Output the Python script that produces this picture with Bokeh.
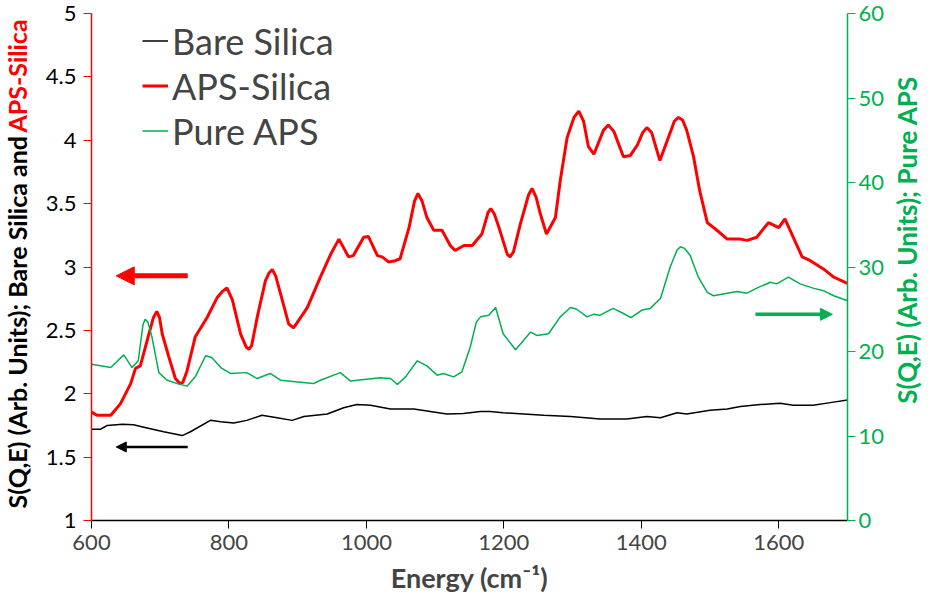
import math
from bokeh.plotting import figure
from bokeh.layouts import row
from bokeh.models import (Range1d, LinearAxis, FixedTicker, CustomJSTickFormatter,
                          Legend, LegendItem, Label, Arrow, NormalHead)
from bokeh.embed import file_html
from bokeh.resources import INLINE

# ---------------- data ----------------
E_bare = [600, 613, 623, 645, 661, 681, 705, 732, 744, 773, 788, 807, 826, 848, 870, 892,
          909, 943, 967, 986, 1006, 1035, 1069, 1093, 1117, 1141, 1166, 1180, 1199, 1258,
          1297, 1340, 1379, 1408, 1428, 1452, 1466, 1500, 1525, 1544, 1573, 1602, 1621,
          1650, 1675, 1700]
S_bare = [1.72, 1.72, 1.75, 1.76, 1.755, 1.73, 1.70, 1.67, 1.70, 1.79, 1.78, 1.77, 1.79,
          1.83, 1.81, 1.79, 1.82, 1.84, 1.89, 1.915, 1.91, 1.88, 1.88, 1.86, 1.84, 1.845,
          1.86, 1.86, 1.85, 1.83, 1.82, 1.80, 1.80, 1.82, 1.81, 1.85, 1.84, 1.87, 1.88,
          1.90, 1.915, 1.925, 1.91, 1.91, 1.93, 1.95]

E_aps_silica = [600, 608, 628, 642, 657, 664, 671, 681, 690, 695, 699, 703, 712, 722, 729,
                733, 739, 751, 768, 783, 791, 797, 805, 817, 825, 829, 833, 841, 853, 858,
                863, 868, 875, 887, 894, 914, 933, 948, 960, 974, 981, 996, 1003, 1016,
                1023, 1032, 1042, 1049, 1062, 1070, 1075, 1081, 1088, 1098, 1110, 1122,
                1129, 1142, 1154, 1168, 1177, 1181, 1186, 1193, 1205, 1209, 1214, 1224,
                1236, 1241, 1247, 1253, 1262, 1275, 1282, 1292, 1302, 1309, 1316, 1323,
                1331, 1345, 1352, 1360, 1374, 1384, 1394, 1402, 1408, 1415, 1427, 1442,
                1448, 1454, 1460, 1466, 1476, 1485, 1496, 1510, 1525, 1544, 1554, 1568,
                1585, 1600, 1609, 1619, 1634, 1646, 1665, 1680, 1700]
S_aps_silica = [1.855, 1.83, 1.83, 1.92, 2.08, 2.20, 2.22, 2.42, 2.60, 2.65, 2.60, 2.47,
                2.30, 2.12, 2.08, 2.09, 2.18, 2.45, 2.60, 2.76, 2.81, 2.835, 2.74, 2.47,
                2.37, 2.35, 2.38, 2.60, 2.89, 2.95, 2.98, 2.93, 2.79, 2.55, 2.52, 2.68,
                2.92, 3.10, 3.22, 3.08, 3.09, 3.235, 3.24, 3.09, 3.08, 3.04, 3.05, 3.065,
                3.31, 3.52, 3.58, 3.52, 3.39, 3.29, 3.29, 3.17, 3.13, 3.17, 3.17, 3.26,
                3.43, 3.46, 3.42, 3.31, 3.10, 3.08, 3.12, 3.34, 3.57, 3.62, 3.55, 3.42,
                3.26, 3.39, 3.68, 4.02, 4.18, 4.23, 4.15, 3.95, 3.89, 4.08, 4.12, 4.07,
                3.87, 3.88, 3.96, 4.06, 4.10, 4.06, 3.84, 4.06, 4.15, 4.18, 4.16, 4.08,
                3.87, 3.60, 3.35, 3.29, 3.22, 3.22, 3.21, 3.235, 3.35, 3.31, 3.38, 3.26,
                3.08, 3.05, 2.985, 2.92, 2.87]

E_pure_aps = [600, 628, 647, 659, 668, 675, 678, 682, 688, 698, 710, 725, 739, 751, 766,
              775, 788, 802, 826, 841, 860, 875, 923, 933, 962, 977, 1020, 1035, 1045,
              1057, 1074, 1088, 1103, 1112, 1127, 1139, 1151, 1160, 1166, 1178, 1188,
              1199, 1217, 1239, 1248, 1265, 1282, 1297, 1306, 1321, 1330, 1340, 1359,
              1374, 1385, 1401, 1413, 1428, 1442, 1452, 1457, 1463, 1471, 1483, 1496,
              1505, 1525, 1539, 1554, 1568, 1588, 1597, 1614, 1631, 1650, 1665, 1680, 1700]
S_pure_aps = [18.5, 18.1, 19.6, 18.1, 18.9, 23.2, 23.8, 23.5, 21.7, 17.5, 16.6, 16.2, 15.9,
              17.0, 19.5, 19.3, 18.1, 17.4, 17.5, 16.8, 17.4, 16.6, 16.2, 16.6, 17.5, 16.5,
              16.9, 16.8, 16.1, 17.0, 18.9, 18.3, 17.2, 17.4, 17.0, 17.6, 20.5, 23.5, 24.1,
              24.3, 25.2, 22.1, 20.2, 22.3, 21.9, 22.1, 24.1, 25.2, 25.0, 24.1, 24.4, 24.3,
              25.1, 24.5, 24.0, 24.9, 25.1, 26.3, 30.0, 32.0, 32.4, 32.2, 31.4, 28.8, 27.0,
              26.6, 26.9, 27.1, 26.9, 27.5, 28.2, 28.0, 28.8, 28.0, 27.5, 27.2, 26.6, 26.0]

x_ticks = [600, 800, 1000, 1200, 1400, 1600]
left_ticks = [1, 1.5, 2, 2.5, 3, 3.5, 4, 4.5, 5]
right_ticks = [0, 10, 20, 30, 40, 50, 60]

series_names = ["Bare Silica", "APS-Silica", "Pure APS"]
left_label_black = "S(Q,E) (Arb. Units); Bare Silica and"
left_label_red = "APS-Silica"
right_label = "S(Q,E) (Arb. Units); Pure APS"
x_label = "Energy (cm\u207b\u00b9)"

# arrow annotations (data units): x_start, x_end, y
red_arrow = [740, 636, 2.93]
black_arrow = [740, 636, 1.58]
green_arrow = [1566, 1678, 24.4]

RED = "#FF0000"
GREEN = "#00B050"
FONT = "Lato"
H = 596

# ---------- left label strip ----------
LW = 32
pl = figure(width=LW, height=H, x_range=Range1d(0, LW), y_range=Range1d(0, H),
            output_backend="svg", toolbar_location=None, x_axis_type=None, y_axis_type=None,
            min_border=0)
pl.outline_line_color = None
anchor = H - 142
common = dict(x=16, angle=math.pi / 2, text_baseline="middle", text_font=FONT,
              text_font_style="bold", text_font_size="25px")
pl.add_layout(Label(y=anchor - 2, text=left_label_black, text_align="right",
                    text_color="black", **common))
pl.add_layout(Label(y=anchor + 2, text=left_label_red, text_align="left",
                    text_color=RED, **common))

# ---------- main plot ----------
RW = 36
MW = 924 - LW - RW
p = figure(width=MW, height=H, x_range=Range1d(600, 1700), y_range=Range1d(1, 5),
           output_backend="svg", toolbar_location=None,
           min_border_left=91 - LW, min_border_right=MW - (91 - LW) - 756,
           min_border_top=13, min_border_bottom=76)
p.extra_y_ranges = {"right": Range1d(0, 60)}
p.xgrid.visible = False
p.ygrid.visible = False
p.outline_line_color = None
p.background_fill_color = "white"

fmt = CustomJSTickFormatter(code="return String(Math.round(tick*10)/10)")

xa = p.xaxis[0]
xa.ticker = FixedTicker(ticks=x_ticks)
xa.axis_line_color = "black"
xa.axis_line_width = 1.5
xa.major_tick_line_color = "black"
xa.major_tick_out = 8
xa.major_tick_in = 0
xa.minor_tick_line_color = None
xa.major_label_text_font = FONT
xa.major_label_text_font_size = "22px"
xa.major_label_standoff = 6
xa.axis_label = x_label
xa.axis_label_text_font = FONT
xa.axis_label_text_font_style = "bold"
xa.axis_label_text_font_size = "27px"
xa.axis_label_standoff = 8

ya = p.yaxis[0]
ya.ticker = FixedTicker(ticks=left_ticks)
ya.formatter = fmt
ya.axis_line_color = RED
ya.axis_line_width = 1.5
ya.major_tick_line_color = RED
ya.major_tick_out = 8
ya.major_tick_in = 0
ya.minor_tick_line_color = None
ya.major_label_text_font = FONT
ya.major_label_text_font_size = "22px"
ya.major_label_text_color = "black"
ya.major_label_standoff = 7

ra = LinearAxis(y_range_name="right", ticker=FixedTicker(ticks=right_ticks), formatter=fmt)
ra.axis_line_color = GREEN
ra.axis_line_width = 1.5
ra.major_tick_line_color = GREEN
ra.major_tick_out = 8
ra.major_tick_in = 0
ra.minor_tick_line_color = None
ra.major_label_text_font = FONT
ra.major_label_text_font_size = "22px"
ra.major_label_text_color = GREEN
ra.major_label_standoff = 3
p.add_layout(ra, "right")

r_bare = p.line(E_bare, S_bare, line_color="black", line_width=1.5)
r_aps = p.line(E_aps_silica, S_aps_silica, line_color=RED, line_width=3)
r_pure = p.line(E_pure_aps, S_pure_aps, line_color=GREEN, line_width=1.5, y_range_name="right")

p.add_layout(Arrow(x_start=red_arrow[0], x_end=red_arrow[1], y_start=red_arrow[2], y_end=red_arrow[2],
                   line_color=RED, line_width=5,
                   end=NormalHead(size=18, fill_color=RED, line_color=RED)))
p.add_layout(Arrow(x_start=black_arrow[0], x_end=black_arrow[1], y_start=black_arrow[2], y_end=black_arrow[2],
                   line_color="black", line_width=2.5,
                   end=NormalHead(size=10, fill_color="black", line_color="black")))
p.add_layout(Arrow(x_start=green_arrow[0], x_end=green_arrow[1], y_start=green_arrow[2], y_end=green_arrow[2],
                   y_range_name="right", line_color=GREEN, line_width=3.5,
                   end=NormalHead(size=12, fill_color=GREEN, line_color=GREEN)))

legend = Legend(items=[LegendItem(label=series_names[0], renderers=[r_bare]),
                       LegendItem(label=series_names[1], renderers=[r_aps]),
                       LegendItem(label=series_names[2], renderers=[r_pure])],
                location=(51, 367), border_line_color=None, background_fill_alpha=0,
                padding=0, spacing=0, glyph_width=26, glyph_height=45, label_height=45,
                label_standoff=4, label_text_font=FONT, label_text_font_size="36px")
p.add_layout(legend)

# ---------- right label strip ----------
pr = figure(width=RW, height=H, x_range=Range1d(0, RW), y_range=Range1d(0, H),
            output_backend="svg", toolbar_location=None, x_axis_type=None, y_axis_type=None,
            min_border=0)
pr.outline_line_color = None
pr.add_layout(Label(x=RW / 2, y=H - 266, angle=math.pi / 2, text=right_label,
                    text_align="center", text_baseline="middle", text_color=GREEN,
                    text_font=FONT, text_font_style="bold", text_font_size="26px"))

layout = row(pl, p, pr, spacing=0)
open("out.html", "w").write(file_html(layout, INLINE))
